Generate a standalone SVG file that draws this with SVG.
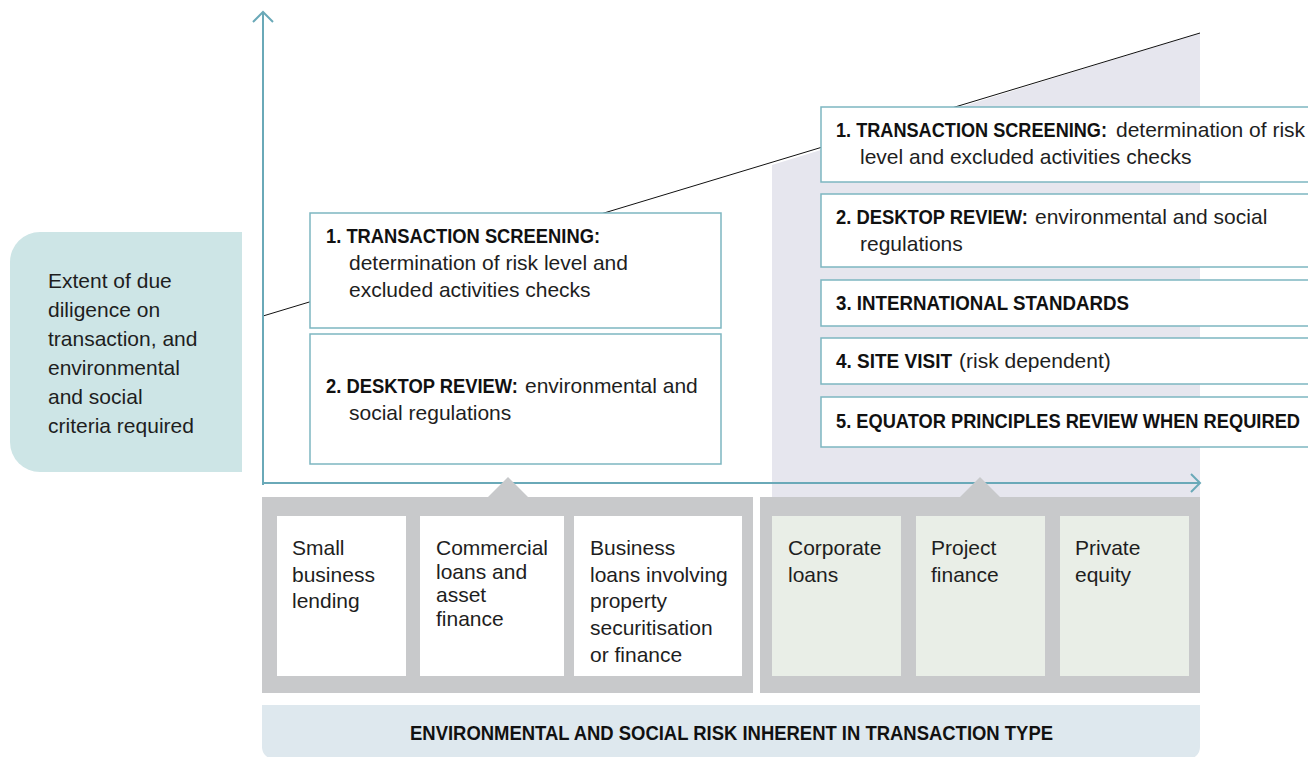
<svg xmlns="http://www.w3.org/2000/svg" width="1308" height="757" viewBox="0 0 1308 757">
<style>
.reg{font-family:"Liberation Sans",Arial,sans-serif;font-size:21px;fill:#1e1e1e}
.b{font-family:"Liberation Sans",Arial,sans-serif;font-weight:bold;font-size:20px;fill:#111}
.box{fill:#fff;stroke:#7db6c1;stroke-width:1.5}
.ax{stroke:#6aa9b8;stroke-width:2;fill:none}
.grey{fill:#c8c9cb}
.wbox{fill:#fff}
.gbox{fill:#e9eee7}
</style>
<rect width="1308" height="757" fill="#fff"/>
<g id="shade"><polygon points="772,165 1200,33 1200,497 772,497" fill="#e6e6ee"/></g>
<g id="connectors">
<line x1="263" y1="316" x2="1200" y2="33" stroke="#111" stroke-width="1"/>
<line class="ax" x1="263" y1="485" x2="263" y2="13"/>
<polyline class="ax" points="253,22 263,12 273,22"/>
<line class="ax" x1="262" y1="483" x2="1199" y2="483"/>
<polyline class="ax" points="1191,474 1200,483 1191,492"/>
</g>
<g id="yaxis-label">
<path d="M40,232 H242 V472 H40 A30,30 0 0 1 10,442 V262 A30,30 0 0 1 40,232 Z" fill="#cde5e6"/>
<text class="reg"><tspan x="48" y="288">Extent of due</tspan><tspan x="48" y="317">diligence on</tspan><tspan x="48" y="346">transaction, and</tspan><tspan x="48" y="375">environmental</tspan><tspan x="48" y="404">and social</tspan><tspan x="48" y="433">criteria required</tspan></text>
</g>
<g id="left-step1">
<rect class="box" x="310" y="213" width="411" height="115"/>
<text class="b" x="326" y="243" textLength="274" lengthAdjust="spacingAndGlyphs">1. TRANSACTION SCREENING:</text>
<text class="reg"><tspan x="349" y="270">determination of risk level and</tspan><tspan x="349" y="297">excluded activities checks</tspan></text>
</g>
<g id="left-step2">
<rect class="box" x="310" y="334" width="411" height="130"/>
<text class="b" x="326" y="393" textLength="192" lengthAdjust="spacingAndGlyphs">2. DESKTOP REVIEW:</text>
<text class="reg" x="525" y="393">environmental and</text>
<text class="reg" x="349" y="420">social regulations</text>
</g>
<g id="right-step1">
<rect class="box" x="821" y="107" width="500" height="75"/>
<text class="b" x="836" y="137" textLength="271" lengthAdjust="spacingAndGlyphs">1. TRANSACTION SCREENING:</text>
<text class="reg" x="1116" y="137">determination of risk</text>
<text class="reg" x="860" y="164">level and excluded activities checks</text>
</g>
<g id="right-step2">
<rect class="box" x="821" y="194" width="500" height="73"/>
<text class="b" x="836" y="224" textLength="192" lengthAdjust="spacingAndGlyphs">2. DESKTOP REVIEW:</text>
<text class="reg" x="1035" y="224">environmental and social</text>
<text class="reg" x="860" y="251">regulations</text>
</g>
<g id="right-step3">
<rect class="box" x="821" y="280" width="500" height="46"/>
<text class="b" x="836" y="310" textLength="293" lengthAdjust="spacingAndGlyphs">3. INTERNATIONAL STANDARDS</text>
</g>
<g id="right-step4">
<rect class="box" x="821" y="338" width="500" height="46"/>
<text class="b" x="836" y="368" textLength="116" lengthAdjust="spacingAndGlyphs">4. SITE VISIT</text>
<text class="reg" x="959" y="368">(risk dependent)</text>
</g>
<g id="right-step5">
<rect class="box" x="821" y="397" width="500" height="50"/>
<text class="b" x="836" y="428" textLength="464" lengthAdjust="spacingAndGlyphs">5. EQUATOR PRINCIPLES REVIEW WHEN REQUIRED</text>
</g>
<g id="low-risk-group">
<polygon class="grey" points="488,497 508,477 528,497"/>
<rect class="grey" x="262" y="497" width="491" height="196"/>
<rect class="wbox" x="277" y="516" width="129" height="160"/>
<rect class="wbox" x="420" y="516" width="144" height="160"/>
<rect class="wbox" x="574" y="516" width="168" height="160"/>
<text class="reg"><tspan x="292" y="555">Small</tspan><tspan x="292" y="582">business</tspan><tspan x="292" y="608">lending</tspan></text>
<text class="reg"><tspan x="436" y="555">Commercial</tspan><tspan x="436" y="579">loans and</tspan><tspan x="436" y="602">asset</tspan><tspan x="436" y="626">finance</tspan></text>
<text class="reg"><tspan x="590" y="555">Business</tspan><tspan x="590" y="582">loans involving</tspan><tspan x="590" y="608">property</tspan><tspan x="590" y="635">securitisation</tspan><tspan x="590" y="662">or finance</tspan></text>
</g>
<g id="high-risk-group">
<polygon class="grey" points="960,497 980,477 1000,497"/>
<rect class="grey" x="760" y="497" width="440" height="196"/>
<rect class="gbox" x="772" y="516" width="129" height="160"/>
<rect class="gbox" x="916" y="516" width="129" height="160"/>
<rect class="gbox" x="1060" y="516" width="129" height="160"/>
<text class="reg"><tspan x="788" y="555">Corporate</tspan><tspan x="788" y="582">loans</tspan></text>
<text class="reg"><tspan x="931" y="555">Project</tspan><tspan x="931" y="582">finance</tspan></text>
<text class="reg"><tspan x="1075" y="555">Private</tspan><tspan x="1075" y="582">equity</tspan></text>
</g>
<g id="xaxis-label">
<path d="M262,705 H1200 V747 A12,12 0 0 1 1188,759 H274 A12,12 0 0 1 262,747 Z" fill="#dee8ee"/>
<text class="b" x="410" y="740" textLength="643" lengthAdjust="spacingAndGlyphs">ENVIRONMENTAL AND SOCIAL RISK INHERENT IN TRANSACTION TYPE</text>
</g>
</svg>
